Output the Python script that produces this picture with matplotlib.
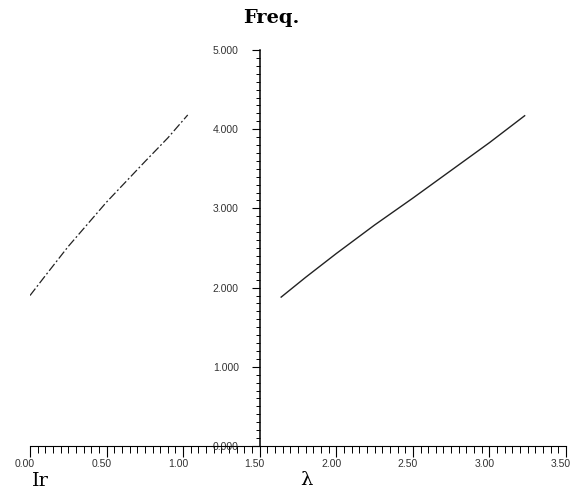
import numpy as np
import matplotlib.pyplot as plt
from matplotlib.ticker import MultipleLocator, FormatStrFormatter
import matplotlib.transforms as mtransforms

# curve: frequency vs Ir and vs lambda
ir_x = [0.00, 0.10, 0.25, 0.50, 0.75, 0.90, 1.03]
ir_y = [1.90, 2.15, 2.52, 3.08, 3.59, 3.89, 4.18]

lam_x = [1.64, 1.80, 2.00, 2.25, 2.50, 2.75, 3.00, 3.23]
lam_y = [1.88, 2.13, 2.43, 2.79, 3.13, 3.48, 3.83, 4.17]

x_ticks = [0.0, 0.5, 1.0, 1.5, 2.0, 2.5, 3.0, 3.5]
y_ticks = [0, 1, 2, 3, 4, 5]

fig = plt.figure(figsize=(5.81, 4.94), dpi=100)
ax = fig.add_axes([30 / 581, 48 / 494, 536 / 581, 396 / 494])

ax.plot(ir_x, ir_y, color='#222222', lw=0.9, ls=(0, (7, 2, 1.5, 2)))
ax.plot(lam_x, lam_y, color='#222222', lw=1.0)

ax.set_xlim(0, 3.5)
ax.set_ylim(0, 5)

for s in ['top', 'right']:
    ax.spines[s].set_visible(False)
ax.spines['left'].set_position(('data', 1.5))
ax.spines['left'].set_linewidth(1.1)
ax.spines['bottom'].set_linewidth(0.8)

ax.set_xticks(x_ticks)
ax.set_yticks(y_ticks)
ax.xaxis.set_minor_locator(MultipleLocator(0.05))
ax.yaxis.set_minor_locator(MultipleLocator(0.1))
ax.xaxis.set_major_formatter(FormatStrFormatter('%.2f'))
ax.yaxis.set_major_formatter(FormatStrFormatter('%.3f'))

ax.tick_params(axis='x', which='major', direction='out', length=8, width=0.8,
               pad=1, labelsize=7.5, labelcolor='#333333')
ax.tick_params(axis='x', which='minor', direction='out', length=5, width=0.7)
ax.tick_params(axis='y', which='major', direction='out', length=6, width=0.8,
               pad=9, labelsize=7.5, labelcolor='#333333')
ax.tick_params(axis='y', which='minor', direction='out', length=3, width=0.7)

for lab in ax.get_xticklabels() + ax.get_yticklabels():
    lab.set_family('Liberation Sans')

# x labels sit a little to the left of their ticks in the original
shift = mtransforms.ScaledTranslation(-5 / 100, 0, fig.dpi_scale_trans)
for lab in ax.get_xticklabels():
    lab.set_transform(lab.get_transform() + shift)

fig.text(271 / 581, 1 - 18 / 494, 'Freq.', ha='center', va='center',
         family='DejaVu Serif', fontweight='bold', fontsize=14)
fig.text(32 / 581, 1 - 481 / 494, 'Ir', ha='left', va='center',
         family='DejaVu Serif', fontsize=14)
fig.text(300 / 581, 1 - 480 / 494, 'λ', ha='left', va='center',
         family='DejaVu Serif', fontsize=14)

fig.savefig('out.png', dpi=100)
